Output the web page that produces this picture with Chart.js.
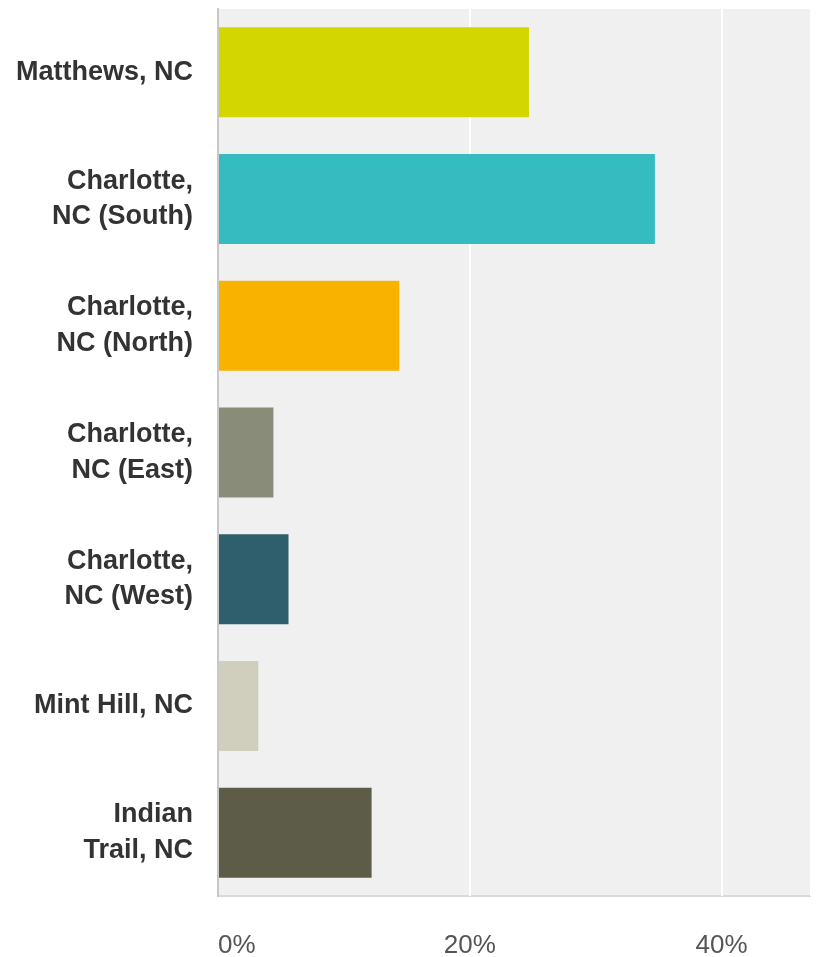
<!DOCTYPE html>
<html>
<head>
<meta charset="utf-8">
<script src="https://cdn.jsdelivr.net/npm/chart.js@4"></script>
<style>
  html, body { margin: 0; padding: 0; background: #fff; }
  #wrap { width: 816px; height: 957px; position: relative; }
</style>
</head>
<body>
<div id="wrap"><canvas id="cityChart"></canvas></div>
<script>
// --- données ---
const categories = [
    'Matthews, NC',
    ['Charlotte,', 'NC (South)'],
    ['Charlotte,', 'NC (North)'],
    ['Charlotte,', 'NC (East)'],
    ['Charlotte,', 'NC (West)'],
    'Mint Hill, NC',
    ['Indian', 'Trail, NC']
];
const percentages = [24.7, 34.7, 14.4, 4.4, 5.6, 3.2, 12.2];
const barColors = ['#d3d600', '#35bcc0', '#f8b200', '#8a8c7a', '#2f5e6d', '#d0cfbd', '#5d5c48'];
const tickValues = [0, 20, 40];
const axisMax = 47.1;

// fond gris de la zone de tracé
const plotBackground = {
    id: 'plotBackground',
    beforeDraw(chart) {
        const a = chart.chartArea;
        const ctx = chart.ctx;
        ctx.save();
        ctx.fillStyle = '#f0f0f0';
        ctx.fillRect(a.left, a.top, a.right - a.left, a.bottom - a.top);
        ctx.strokeStyle = '#d9d9d9';
        ctx.lineWidth = 2;
        ctx.beginPath();
        ctx.moveTo(a.left, a.bottom);
        ctx.lineTo(a.right, a.bottom);
        ctx.stroke();
        ctx.restore();
    }
};

new Chart(document.getElementById('cityChart'), {
    type: 'bar',
    data: {
        labels: categories,
        datasets: [{
            data: percentages,
            backgroundColor: barColors,
            borderWidth: 0,
            barPercentage: 0.71,
            categoryPercentage: 1
        }]
    },
    options: {
        indexAxis: 'y',
        responsive: true,
        maintainAspectRatio: false,
        animation: false,
        layout: { padding: { top: 9, right: 5, left: 0, bottom: 0 } },
        plugins: { legend: { display: false }, tooltip: { enabled: false } },
        scales: {
            x: {
                min: 0,
                max: axisMax,
                afterBuildTicks(scale) {
                    scale.ticks = tickValues.map(v => ({ value: v })).concat([{ value: axisMax }]);
                },
                grid: { color: '#ffffff', lineWidth: 2, drawTicks: false },
                border: { display: false },
                afterFit(scale) {
                    scale.height = 61;
                    scale.paddingLeft = 0;
                    scale.paddingRight = 0;
                },
                ticks: {
                    align: 'inner',
                    padding: 34,
                    color: '#555',
                    font: { family: 'Liberation Sans, Arial, sans-serif', size: 26 },
                    callback: v => tickValues.includes(v) ? v + '%' : ''
                }
            },
            y: {
                grid: { display: false, drawTicks: false },
                border: { display: true, color: '#c8c8c8', width: 2 },
                afterFit(scale) {
                    scale.width = 218;
                    scale.paddingTop = 0;
                    scale.paddingBottom = 0;
                },
                ticks: {
                    padding: 25,
                    color: '#333',
                    font: { family: 'Liberation Sans, Arial, sans-serif', size: 27, weight: 'bold', lineHeight: 1.32 }
                }
            }
        }
    },
    plugins: [plotBackground]
});
</script>
</body>
</html>
